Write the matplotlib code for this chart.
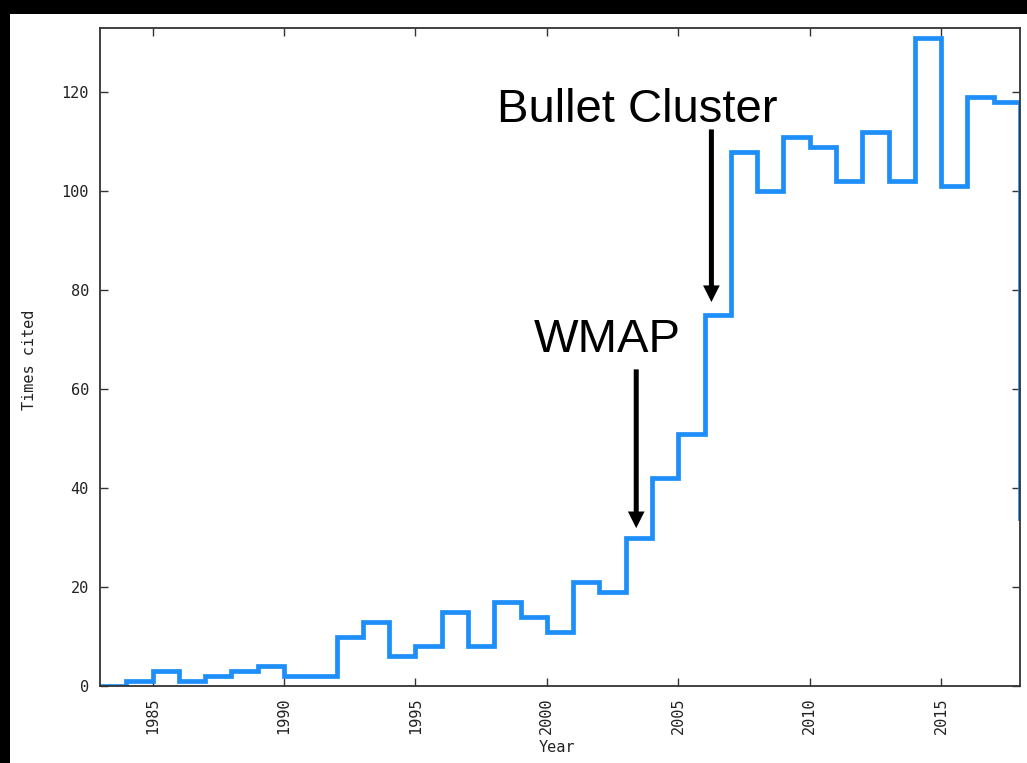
#!/usr/bin/env python3
"""Citations per year, with WMAP and Bullet Cluster marked."""

import matplotlib
matplotlib.use("Agg")
import matplotlib.pyplot as plt
from matplotlib.patches import Rectangle
import numpy as np

YEARS = list(range(1983, 2019))
CITES = [0, 1, 3, 1, 2, 3, 4, 2, 2, 10, 13, 6, 8, 15, 8, 17, 14, 11,
         21, 19, 30, 42, 51, 75, 108, 100, 111, 109, 102, 112, 102, 131,
         101, 119, 118, 34]
XTICKS = [1985, 1990, 1995, 2000, 2005, 2010, 2015]
YTICKS = [0, 20, 40, 60, 80, 100, 120]

TICK_FONT = "DejaVu Sans Mono"
LINE_BLUE = "#1e8ffa"
AXIS_GREY = "#333333"

fig = plt.figure(figsize=(10.27, 7.63), dpi=100, facecolor="black")
# white canvas inside the black frame
fig.patches.append(Rectangle((10 / 1027, 0), 1, 1 - 14 / 763,
                             transform=fig.transFigure, facecolor="white",
                             edgecolor="none", zorder=-5))

ax = fig.add_axes([100 / 1027, 77 / 763, 920 / 1027, 658 / 763])
ax.set_zorder(2)
ax.set_facecolor("white")

edges = np.array(YEARS + [YEARS[-1] + 1])
ax.stairs(CITES, edges, baseline=None, color=LINE_BLUE, lw=3.4, zorder=2)

ax.set_xlim(1983, 2018)
ax.set_ylim(0, 133)
ax.set_xticks(XTICKS)
ax.set_yticks(YTICKS)
ax.set_xticklabels([str(y) for y in XTICKS], rotation=90,
                   family=TICK_FONT, fontsize=11, color="#222222")
ax.set_yticklabels([str(v) for v in YTICKS],
                   family=TICK_FONT, fontsize=11, color="#222222")
ax.tick_params(direction="in", length=6, width=1.0, color=AXIS_GREY,
               top=True, right=True, pad=8)
for sp in ax.spines.values():
    sp.set_color(AXIS_GREY)
    sp.set_linewidth(1.3)
    sp.set_zorder(3)

ax.set_xlabel("Year", family=TICK_FONT, fontsize=11, color="#222222")
ax.set_ylabel("Times cited", family=TICK_FONT, fontsize=11, color="#222222")
ax.xaxis.set_label_coords(0.497, -0.082)
ax.yaxis.set_label_coords(-0.0685, 0.495)

# filled arrows: shaft about 5 px, head about 17 px wide and long
arrow = dict(arrowstyle="simple,head_width=1.2,head_length=1.2,tail_width=0.36",
             mutation_scale=10, lw=0, fc="black", ec="none",
             shrinkA=0, shrinkB=0)

ax.annotate("", xy=(2006.26, 77.6), xytext=(2006.26, 112.5), arrowprops=arrow)
ax.text(2003.43, 113.9, "Bullet Cluster", family="Liberation Sans",
        fontsize=34, ha="center", va="baseline")

ax.annotate("", xy=(2003.4, 31.9), xytext=(2003.4, 64.0), arrowprops=arrow)
ax.text(2002.3, 67.5, "WMAP", family="Liberation Sans",
        fontsize=34, ha="center", va="baseline")

fig.savefig("out.png", dpi=100, facecolor=fig.get_facecolor())
